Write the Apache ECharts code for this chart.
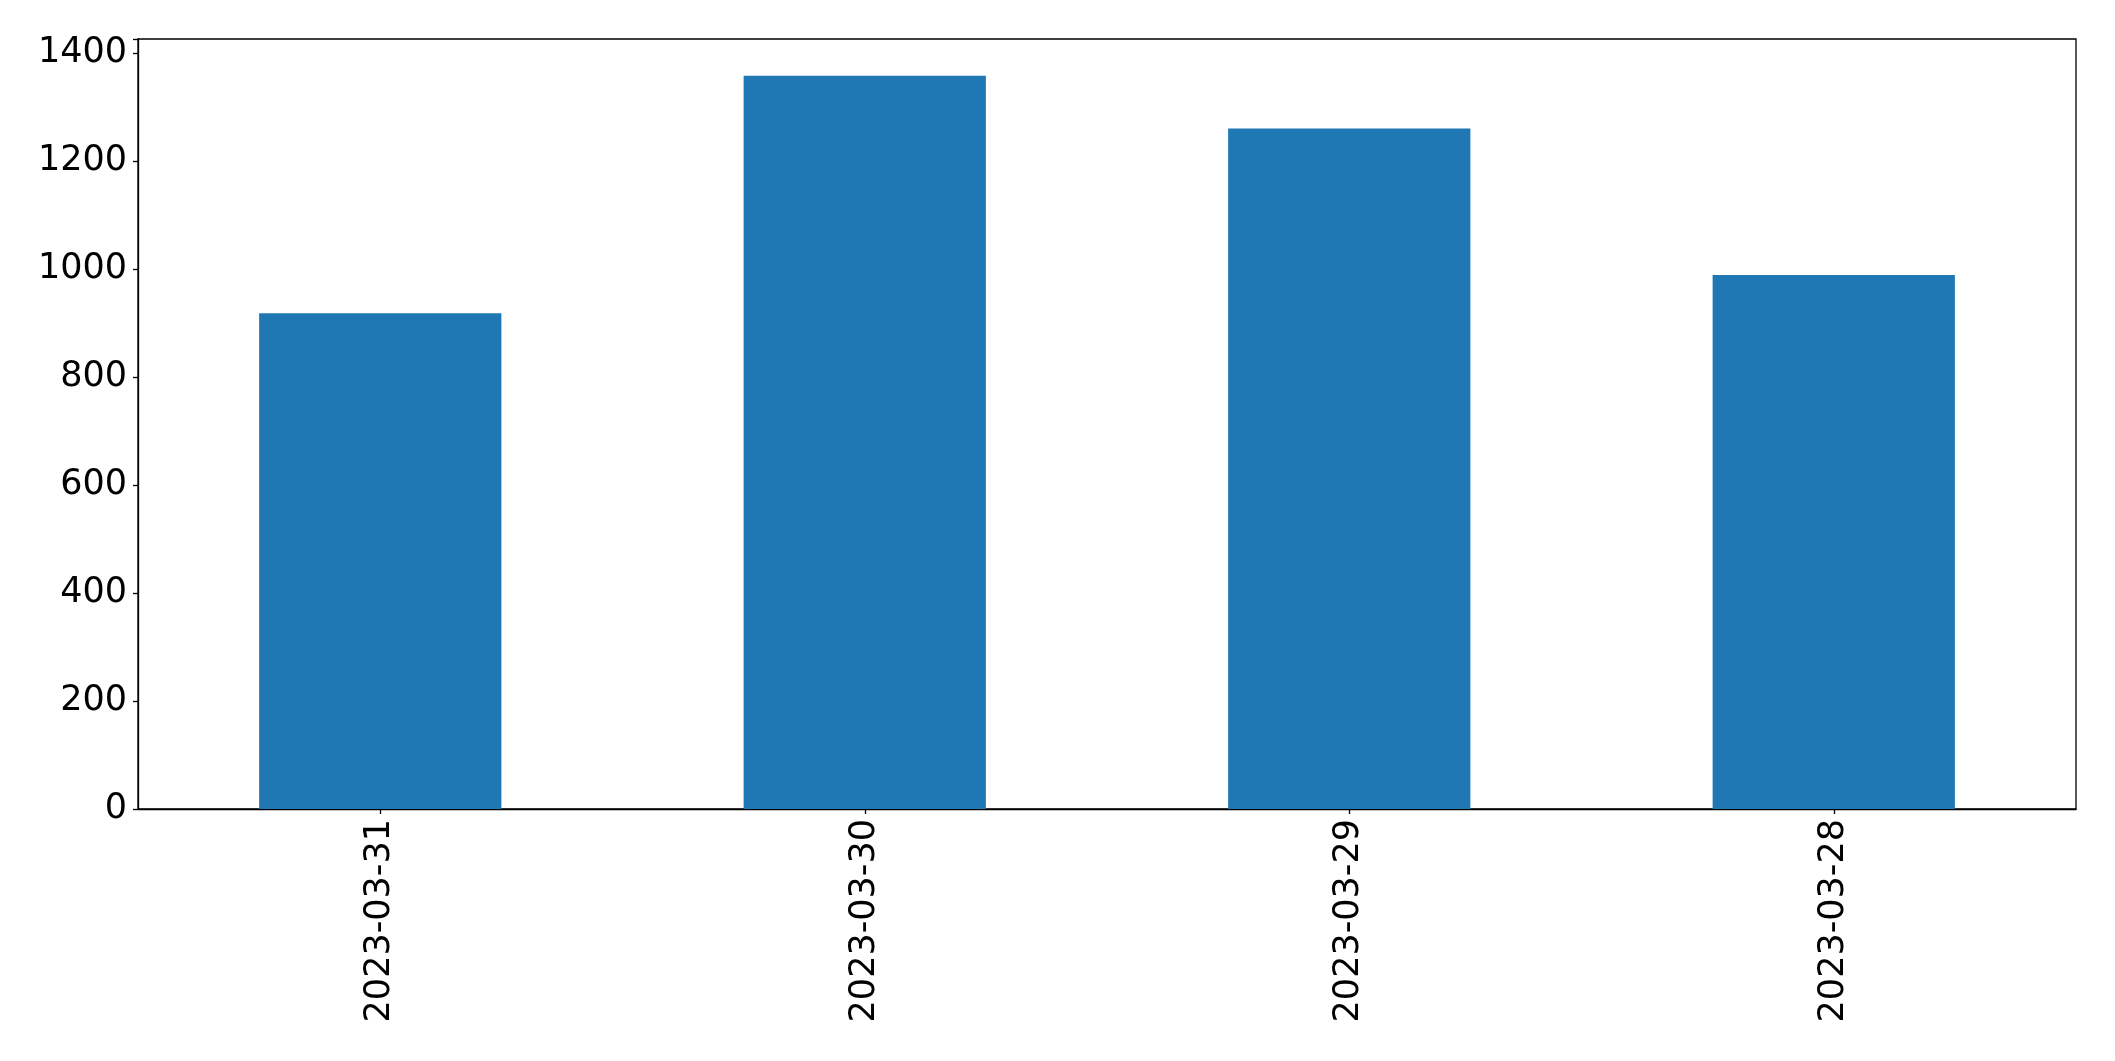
<!DOCTYPE html>
<html>
<head>
<meta charset="utf-8">
<script src="https://cdn.jsdelivr.net/npm/echarts@6/dist/echarts.min.js"></script>
<style>html,body{margin:0;padding:0;background:#fff}#c{width:2115px;height:1061px}</style>
</head>
<body>
<div id="c"></div>
<script>
const categories = ['2023-03-31', '2023-03-30', '2023-03-29', '2023-03-28'];
const values = [918, 1358, 1260, 989];
const yTicks = [0, 200, 400, 600, 800, 1000, 1200, 1400];

const chart = echarts.init(document.getElementById('c'));
const font = 'DejaVu Sans';
chart.setOption({
  animation: false,
  grid: { left: 138, right: 39, top: 39, bottom: 252, show: true, borderColor: '#000', borderWidth: 1.3, backgroundColor: 'transparent' },
  xAxis: {
    type: 'category',
    data: categories,
    axisLine: { show: true, lineStyle: { color: '#000', width: 1.3 } },
    axisTick: { show: true, alignWithLabel: true, length: 5, lineStyle: { color: '#000', width: 1.3 } },
    axisLabel: { rotate: 90, fontFamily: font, fontSize: 35, color: '#000', margin: 10 },
    splitLine: { show: false }
  },
  yAxis: {
    type: 'value',
    min: 0,
    max: function (v) { return v.max * 1.05; },
    interval: 200,
    axisLine: { show: true, lineStyle: { color: '#000', width: 1.3 } },
    axisTick: { show: true, length: 5, lineStyle: { color: '#000', width: 1.3 } },
    axisLabel: {
      fontFamily: font, fontSize: 35, color: '#000', margin: 11,
      padding: [6, 0, 0, 0],
      showMaxLabel: true,
      formatter: function (v) { return yTicks.indexOf(v) >= 0 ? String(v) : ''; }
    },
    splitLine: { show: false }
  },
  series: [{
    type: 'bar',
    data: values,
    barWidth: '50%',
    itemStyle: { color: '#1f77b4' }
  }]
});
</script>
</body>
</html>
